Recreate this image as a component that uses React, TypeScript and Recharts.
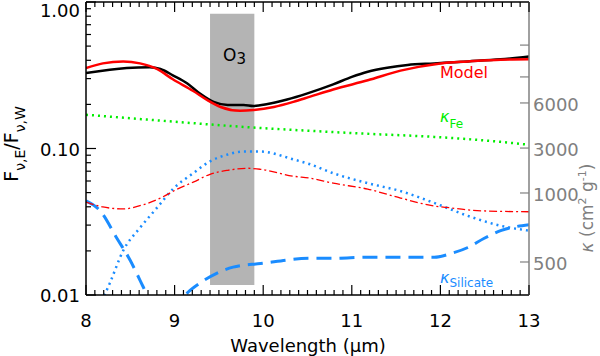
import { LineChart, Line, XAxis, YAxis, ReferenceArea, ReferenceLine } from "recharts"

// wavelength (um) / flux ratio pairs
const obsWl = [8.0, 8.46, 8.72, 8.84, 8.98, 9.14, 9.29, 9.44, 9.6, 9.78, 9.89, 10.05, 10.27, 10.5, 10.79, 11.0, 11.18, 11.4, 11.63, 11.93, 12.31, 12.68, 13.0]
const obsRatio = [0.327, 0.354, 0.358, 0.349, 0.316, 0.279, 0.236, 0.208, 0.198, 0.198, 0.195, 0.201, 0.216, 0.238, 0.274, 0.308, 0.334, 0.356, 0.372, 0.381, 0.393, 0.406, 0.425]

const modelWl = [8.0, 8.19, 8.42, 8.61, 8.8, 8.98, 9.21, 9.37, 9.52, 9.74, 9.89, 10.12, 10.34, 10.53, 10.79, 11.18, 11.55, 12.0, 12.31, 12.68, 13.0]
const modelRatio = [0.354, 0.381, 0.393, 0.381, 0.349, 0.297, 0.247, 0.214, 0.192, 0.181, 0.183, 0.192, 0.208, 0.226, 0.253, 0.292, 0.34, 0.381, 0.393, 0.404, 0.406]

const feWl = [8.0, 8.84, 9.89, 10.53, 11.18, 11.93, 12.68, 13.0]
const feKappa = [0.17, 0.155, 0.139, 0.132, 0.126, 0.12, 0.111, 0.106]

const silDotWl = [8.1, 8.21, 8.27, 8.42, 8.61, 8.8, 8.98, 9.21, 9.4, 9.6, 9.78, 9.97, 10.34, 10.53, 10.79, 11.18, 11.55, 11.93, 12.31, 12.68, 13.0]
const silDotVal = [0.007, 0.01, 0.0121, 0.0201, 0.0288, 0.0393, 0.0528, 0.0678, 0.0817, 0.091, 0.0954, 0.0954, 0.0843, 0.078, 0.0678, 0.058, 0.0512, 0.0425, 0.0347, 0.0297, 0.0275]

const silKappaWl = [8.0, 8.16, 8.35, 8.5, 8.61, 8.69, 8.9, 9.12, 9.29, 9.48, 9.66, 9.97, 10.53, 10.79, 11.18, 11.93, 12.12, 12.31, 12.49, 12.68, 13.0]
const silKappa = [0.0439, 0.0375, 0.0243, 0.0172, 0.0126, 0.01, 0.0065, 0.01, 0.0121, 0.0141, 0.0155, 0.0164, 0.0178, 0.0178, 0.0181, 0.0181, 0.0192, 0.0211, 0.0243, 0.0275, 0.0302]

const dashDotWl = [8.0, 8.19, 8.42, 8.64, 8.84, 9.03, 9.21, 9.4, 9.6, 9.82, 9.97, 10.34, 10.53, 10.79, 11.18, 11.55, 11.93, 12.12, 12.31, 12.49, 13.0]
const dashDotVal = [0.0431, 0.0399, 0.0387, 0.0412, 0.0459, 0.0528, 0.0589, 0.0667, 0.071, 0.0733, 0.0721, 0.0647, 0.0627, 0.058, 0.0528, 0.0459, 0.0405, 0.0393, 0.0381, 0.0375, 0.037]

// axis ticks
const xMajor = [8, 9, 10, 11, 12, 13]
const xTicks = Array.from({ length: 51 }, (_, i) => Math.round((8 + i * 0.1) * 10) / 10)
const yMajor = [0.01, 0.1, 1]
const yTicks = [0.01, 0.02, 0.03, 0.04, 0.05, 0.06, 0.07, 0.08, 0.09, 0.1, 0.2, 0.3, 0.4, 0.5, 0.6, 0.7, 0.8, 0.9, 1]
// kappa axis: position on the ratio scale -> label
const kappaPos = [0.0168, 0.0497, 0.1007, 0.2046, 0.308, 0.508]
const kappaLabels = ["500", "1000", "3000", "6000", "", ""]

const o3Band = { x1: 9.4, x2: 9.9, y1: 0.0117, y2: 0.83 }

const zip = (xs: number[], ys: number[]) => xs.map((x, i) => ({ x, y: ys[i] }))

const W = 600
const H = 356
const TOP = 2
const BOTTOM = 295
const LEFT = 86
const RIGHT = 529
const FONT = "DejaVu Sans"
const BLUE = "#1a8cff"
const GREEN = "#00ee00"
const GRAY = "#808080"

function XTick({ x, payload }: any) {
  const v = payload.value
  const major = xMajor.includes(v)
  const len = major ? 10 : 5
  return (
    <g>
      <line x1={x} x2={x} y1={BOTTOM} y2={BOTTOM - len} stroke="#000" strokeWidth={1.2} />
      <line x1={x} x2={x} y1={TOP} y2={TOP + len} stroke="#000" strokeWidth={1.2} />
      {major && (
        <text x={x} y={327} textAnchor="middle" fontSize={18} fontFamily={FONT} fill="#000">
          {v}
        </text>
      )}
    </g>
  )
}

function YTick({ y, payload }: any) {
  const v = payload.value
  const major = yMajor.includes(v)
  const len = major ? 10 : 5
  return (
    <g>
      <line x1={LEFT} x2={LEFT + len} y1={y} y2={y} stroke="#000" strokeWidth={1.2} />
      {major && (
        <text x={80} y={Math.max(y + 7, 17)} textAnchor="end" fontSize={18} fontFamily={FONT} fill="#000">
          {v.toFixed(2)}
        </text>
      )}
    </g>
  )
}

function KappaTick({ y, payload }: any) {
  const idx = kappaPos.indexOf(payload.value)
  return (
    <g>
      <line x1={RIGHT} x2={RIGHT - 9} y1={y} y2={y} stroke={GRAY} strokeWidth={1.2} />
      <text x={533} y={y + 8} textAnchor="start" fontSize={18} fontFamily={FONT} fill={GRAY}>
        {kappaLabels[idx]}
      </text>
    </g>
  )
}

export default function App() {
  return (
    <div style={{ position: "absolute", left: 0, top: 0, width: W, height: H, background: "#fff" }}>
      <LineChart width={W} height={H} margin={{ top: TOP, right: 0, bottom: 0, left: 0 }}>
        <XAxis
          dataKey="x"
          type="number"
          domain={[8, 13]}
          ticks={xTicks}
          interval={0}
          tickSize={0}
          tickMargin={0}
          tick={<XTick />}
          height={H - BOTTOM}
          axisLine={{ stroke: "#000", strokeWidth: 1.5 }}
          allowDataOverflow
        />
        <YAxis
          yAxisId="left"
          scale="log"
          domain={[0.01, 1]}
          ticks={yTicks}
          interval={0}
          tickSize={0}
          tickMargin={0}
          tick={<YTick />}
          width={LEFT}
          axisLine={{ stroke: "#000", strokeWidth: 1.5 }}
          allowDataOverflow
        />
        <YAxis
          yAxisId="right"
          orientation="right"
          scale="log"
          domain={[0.01, 1]}
          ticks={kappaPos}
          interval={0}
          tickSize={0}
          tickMargin={0}
          tick={<KappaTick />}
          width={W - RIGHT}
          axisLine={{ stroke: GRAY, strokeWidth: 1.5 }}
          allowDataOverflow
        />
        <ReferenceArea
          yAxisId="left"
          x1={o3Band.x1}
          x2={o3Band.x2}
          y1={o3Band.y1}
          y2={o3Band.y2}
          fill="#b4b4b4"
          fillOpacity={1}
          stroke="none"
        />
        <ReferenceLine yAxisId="left" y={1} stroke="#000" strokeWidth={1.5} />
        <Line yAxisId="left" data={zip(feWl, feKappa)} dataKey="y" type="monotone" stroke={GREEN} strokeWidth={2.5} strokeDasharray="2 4" dot={false} isAnimationActive={false} />
        <Line yAxisId="left" data={zip(silDotWl, silDotVal)} dataKey="y" type="monotone" stroke={BLUE} strokeWidth={2.5} strokeDasharray="2 4" dot={false} isAnimationActive={false} />
        <Line yAxisId="left" data={zip(silKappaWl, silKappa)} dataKey="y" type="monotone" stroke={BLUE} strokeWidth={3} strokeDasharray="15 8" dot={false} isAnimationActive={false} />
        <Line yAxisId="left" data={zip(dashDotWl, dashDotVal)} dataKey="y" type="monotone" stroke="#ff0000" strokeWidth={1.3} strokeDasharray="8 3 2 3" dot={false} isAnimationActive={false} />
        <Line yAxisId="left" data={zip(obsWl, obsRatio)} dataKey="y" type="monotone" stroke="#000" strokeWidth={2.5} dot={false} isAnimationActive={false} />
        <Line yAxisId="left" data={zip(modelWl, modelRatio)} dataKey="y" type="monotone" stroke="#ff0000" strokeWidth={2.5} dot={false} isAnimationActive={false} />
      </LineChart>

      {/* annotations and axis titles */}
      <svg width={W} height={H} style={{ position: "absolute", left: 0, top: 0, pointerEvents: "none" }} fontFamily={FONT}>
        <text x={223} y={61} fontSize={17} fill="#000">
          O<tspan fontSize={15} dy={3}>3</tspan>
        </text>
        <text x={440} y={78} fontSize={16} fill="#ff0000">Model</text>
        <text x={440} y={122} fontSize={16} fill={GREEN} fontStyle="italic">
          κ<tspan fontSize={12} fontStyle="normal" dy={6}>Fe</tspan>
        </text>
        <text x={440} y={283} fontSize={16} fill={BLUE} fontStyle="italic">
          κ<tspan fontSize={12} fontStyle="normal" dy={4}>Silicate</tspan>
        </text>
        <text x={308} y={352} fontSize={18} textAnchor="middle" fill="#000">
          Wavelength (μm)
        </text>
        <text transform="translate(18,144) rotate(-90)" fontSize={19} textAnchor="middle" fill="#000">
          F<tspan fontSize={14} dy={7}>ν,E</tspan>
          <tspan fontSize={19} dy={-7}>/F</tspan>
          <tspan fontSize={14} dy={7}>ν,W</tspan>
        </text>
        <text transform="translate(593,208) rotate(-90)" fontSize={17} textAnchor="middle" fill={GRAY}>
          <tspan fontStyle="italic">κ</tspan> (cm<tspan fontSize={11} dy={-7}>2</tspan>
          <tspan dy={7}> g</tspan>
          <tspan fontSize={11} dy={-7}>-1</tspan>
          <tspan dy={7}>)</tspan>
        </text>
      </svg>
    </div>
  )
}
